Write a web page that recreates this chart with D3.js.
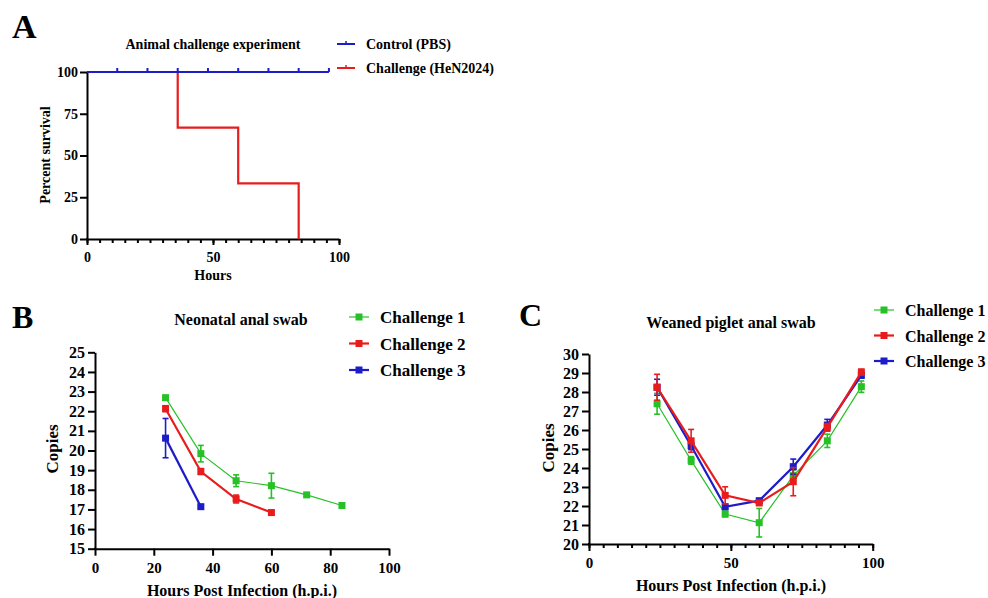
<!DOCTYPE html>
<html><head><meta charset="utf-8">
<script src="https://cdn.jsdelivr.net/npm/d3@7"></script>
<style>
body{margin:0;background:#fff;}
svg{display:block;font-family:"Liberation Serif","Times New Roman",serif;font-weight:bold;}
</style></head><body>
<script>
// ---------- Panel A: survival ----------
const aTitle = "Animal challenge experiment";
const aSeriesNames = ["Control (PBS)", "Challenge (HeN2024)"];
const controlHours = [0, 96];
const controlSurvival = [100, 100];
const controlCensorHours = [12, 24, 36, 48, 60, 72, 84, 96];
const challengeHours = [0, 36, 60, 84];
const challengeSurvival = [100, 66.67, 33.33, 0];
const aXTicks = [0, 50, 100];
const aYTicks = [0, 25, 50, 75, 100];

// ---------- Panel B: neonatal anal swab ----------
const bTitle = "Neonatal anal swab";
const bSeriesNames = ["Challenge 1", "Challenge 2", "Challenge 3"];
const bHours1 = [24, 36, 48, 60, 72, 84];
const bCopies1 = [22.69, 19.84, 18.46, 18.21, 17.74, 17.2];
const bErr1 = [0.1, 0.42, 0.3, 0.63, 0.08, 0.08];
const bHours2 = [24, 36, 48, 60];
const bCopies2 = [22.13, 18.93, 17.53, 16.84];
const bErr2 = [0.15, 0.15, 0.2, 0.1];
const bHours3 = [24, 36];
const bCopies3 = [20.63, 17.14];
const bErr3 = [1.0, 0.08];
const bXTicks = [0, 20, 40, 60, 80, 100];
const bYTicks = [15, 16, 17, 18, 19, 20, 21, 22, 23, 24, 25];

// ---------- Panel C: weaned piglet anal swab ----------
const cTitle = "Weaned piglet anal swab";
const cSeriesNames = ["Challenge 1", "Challenge 2", "Challenge 3"];
const cHours = [24, 36, 48, 60, 72, 84, 96];
const cCopies1 = [27.38, 24.4, 21.58, 21.12, 23.6, 25.43, 28.28];
const cErr1 = [0.55, 0.2, 0.15, 0.75, 0.3, 0.35, 0.3];
const cCopies2 = [28.25, 25.43, 22.56, 22.16, 23.28, 26.14, 29.05];
const cErr2 = [0.68, 0.6, 0.45, 0.1, 0.74, 0.2, 0.15];
const cCopies3 = [28.25, 25.17, 21.96, 22.28, 24.07, 26.26, 28.88];
const cErr3 = [0.42, 0.2, 0.1, 0.1, 0.4, 0.3, 0.15];
const cXTicks = [0, 50, 100];
const cYTicks = [20, 21, 22, 23, 24, 25, 26, 27, 28, 29, 30];

const GREEN = "#27c127", RED = "#e81c1c", BLUE = "#1c1cc8";
const FONT = '"Liberation Serif","Times New Roman",serif';

const svg = d3.select("body").append("svg").attr("width", 988).attr("height", 598);

function styleAxis(sel, fs) {
  sel.attr("font-family", FONT).attr("font-weight", "bold").attr("font-size", fs);
  sel.selectAll("path,line").attr("stroke", "#000").attr("stroke-width", 2);
  sel.selectAll("text").attr("fill", "#000");
  return sel;
}

function drawAxes(o) {
  const { x, y } = o;
  const y0 = y.range()[0], x0 = x.range()[0];
  if (o.xMinor) {
    const m = svg.append("g").attr("transform", `translate(0,${y0})`)
      .call(d3.axisBottom(x).tickValues(o.xMinor).tickSize(o.minorSize).tickFormat(""));
    m.select(".domain").remove();
    m.selectAll("text").remove();
    styleAxis(m, o.xfs);
  }
  styleAxis(svg.append("g").attr("transform", `translate(0,${y0})`)
    .call(d3.axisBottom(x).tickValues(o.xTicks).tickSize(o.xTickSize).tickSizeOuter(0).tickPadding(o.xPad)), o.xfs);
  styleAxis(svg.append("g").attr("transform", `translate(${x0},0)`)
    .call(d3.axisLeft(y).tickValues(o.yTicks).tickSize(o.yTickSize).tickSizeOuter(0).tickPadding(o.yPad)), o.yfs);
  svg.append("rect").attr("x", x0 - 1).attr("y", y0 - 1).attr("width", 2).attr("height", 2).attr("fill", "#000");
}

function text(x, y, s, fs, anchor, rot) {
  const t = svg.append("text").attr("font-family", FONT).attr("font-weight", "bold")
    .attr("font-size", fs).attr("text-anchor", anchor || "start").attr("fill", "#000").text(s);
  if (rot) t.attr("transform", `translate(${x},${y}) rotate(-90)`).attr("dy", "0.35em");
  else t.attr("x", x).attr("y", y);
  return t;
}

function drawSeries(x, y, hours, vals, errs, color, lw) {
  const pts = hours.map((h, i) => [h, vals[i], errs[i]]);
  const g = svg.append("g");
  g.append("path").datum(pts).attr("fill", "none").attr("stroke", color).attr("stroke-width", lw)
    .attr("d", d3.line().x(d => x(d[0])).y(d => y(d[1])));
  const eb = g.selectAll(".eb").data(pts).enter().append("g");
  eb.append("line").attr("x1", d => x(d[0])).attr("x2", d => x(d[0]))
    .attr("y1", d => y(d[1] - d[2])).attr("y2", d => y(d[1] + d[2]))
    .attr("stroke", color).attr("stroke-width", 1.6);
  [1, -1].forEach(s => {
    eb.append("line").attr("x1", d => x(d[0]) - 3).attr("x2", d => x(d[0]) + 3)
      .attr("y1", d => y(d[1] + s * d[2])).attr("y2", d => y(d[1] + s * d[2]))
      .attr("stroke", color).attr("stroke-width", 1.6);
  });
  g.selectAll(".mk").data(pts).enter().append("rect")
    .attr("x", d => x(d[0]) - 3.5).attr("y", d => y(d[1]) - 3.5)
    .attr("width", 7).attr("height", 7).attr("fill", color);
}

function legendSquare(lx, ly, color, label, fs, lw) {
  svg.append("line").attr("x1", lx - 10).attr("x2", lx + 10).attr("y1", ly).attr("y2", ly)
    .attr("stroke", color).attr("stroke-width", lw);
  svg.append("rect").attr("x", lx - 3.5).attr("y", ly - 3.5).attr("width", 7).attr("height", 7).attr("fill", color);
  text(lx + 21, ly + 6, label, fs);
}

// ================= Panel A =================
{
  const x = d3.scaleLinear().domain([0, 100]).range([87, 339]);
  const y = d3.scaleLinear().domain([0, 100]).range([239, 72]);
  drawAxes({ x, y, xTicks: aXTicks, yTicks: aYTicks, xMinor: d3.range(0, 101, 5), minorSize: 4,
    xTickSize: 6, yTickSize: 7, xPad: 7, yPad: 2, xfs: 14, yfs: 14 });
  const step = d3.line().x(d => x(d[0])).y(d => y(d[1])).curve(d3.curveStepAfter);
  svg.append("path").datum(challengeHours.map((h, i) => [h, challengeSurvival[i]]))
    .attr("fill", "none").attr("stroke", RED).attr("stroke-width", 2.2).attr("d", step);
  svg.append("path").datum(controlHours.map((h, i) => [h, controlSurvival[i]]))
    .attr("fill", "none").attr("stroke", BLUE).attr("stroke-width", 2).attr("d", step);
  svg.selectAll(".cens").data(controlCensorHours).enter().append("line")
    .attr("x1", d => x(d)).attr("x2", d => x(d)).attr("y1", y(100)).attr("y2", y(100) - 4)
    .attr("stroke", BLUE).attr("stroke-width", 2);
  text(12, 38, "A", 34);
  text(213, 49, aTitle, 14, "middle");
  text(45.5, 155, "Percent survival", 14, "middle", true);
  text(213, 280, "Hours", 14, "middle");
  const lgCols = [BLUE, RED];
  aSeriesNames.forEach((n, i) => {
    const ly = 44 + i * 24;
    svg.append("line").attr("x1", 337).attr("x2", 355).attr("y1", ly).attr("y2", ly).attr("stroke", lgCols[i]).attr("stroke-width", 2);
    svg.append("line").attr("x1", 346).attr("x2", 346).attr("y1", ly).attr("y2", ly - 3).attr("stroke", lgCols[i]).attr("stroke-width", 1.5);
    text(366, ly + 5, n, 14);
  });
}

// ================= Panel B =================
{
  const x = d3.scaleLinear().domain([0, 100]).range([95, 389]);
  const y = d3.scaleLinear().domain([15, 25]).range([548.7, 352.3]);
  drawAxes({ x, y, xTicks: bXTicks, yTicks: bYTicks, xTickSize: 7, yTickSize: 7, xPad: 7, yPad: 3, xfs: 15, yfs: 16 });
  drawSeries(x, y, bHours1, bCopies1, bErr1, GREEN, 1.2);
  drawSeries(x, y, bHours2, bCopies2, bErr2, RED, 2.2);
  drawSeries(x, y, bHours3, bCopies3, bErr3, BLUE, 2.2);
  text(12, 328, "B", 32);
  text(241, 325, bTitle, 16, "middle");
  text(52, 449, "Copies", 17, "middle", true);
  text(242, 596, "Hours Post Infection (h.p.i.)", 16, "middle");
  [[GREEN, 1.2], [RED, 2.2], [BLUE, 2.2]].forEach((c, i) => legendSquare(359, 317 + i * 26.5, c[0], bSeriesNames[i], 17, c[1]));
}

// ================= Panel C =================
{
  const x = d3.scaleLinear().domain([0, 100]).range([589, 872.7]);
  const y = d3.scaleLinear().domain([20, 30]).range([544, 354]);
  drawAxes({ x, y, xTicks: cXTicks, yTicks: cYTicks, xMinor: d3.range(0, 101, 5), minorSize: 4,
    xTickSize: 7, yTickSize: 7, xPad: 6, yPad: 3, xfs: 15, yfs: 16 });
  drawSeries(x, y, cHours, cCopies1, cErr1, GREEN, 1.2);
  drawSeries(x, y, cHours, cCopies3, cErr3, BLUE, 2.2);
  drawSeries(x, y, cHours, cCopies2, cErr2, RED, 2.2);
  text(519, 326, "C", 32);
  text(731, 328, cTitle, 16, "middle");
  text(548, 448, "Copies", 17, "middle", true);
  text(731, 591, "Hours Post Infection (h.p.i.)", 16, "middle");
  [[GREEN, 1.2], [RED, 2.2], [BLUE, 2.2]].forEach((c, i) => legendSquare(884, 310 + i * 25.5, c[0], cSeriesNames[i], 16, c[1]));
}
</script>
</body></html>
